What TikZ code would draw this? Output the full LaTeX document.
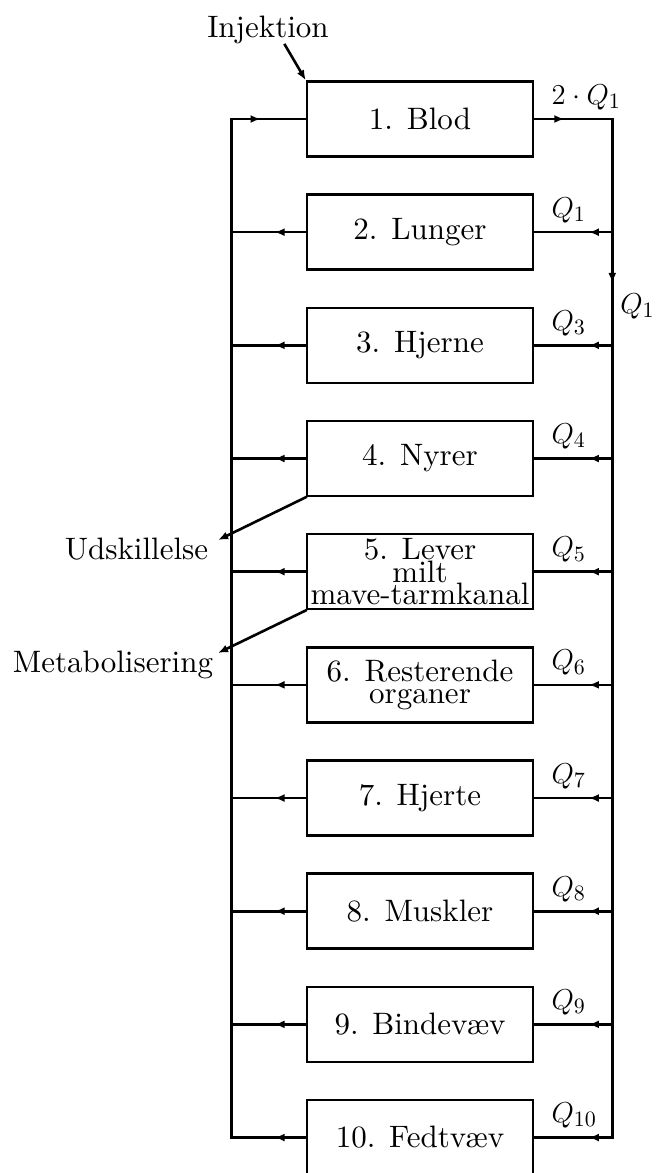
\documentclass[tikz,border=0pt]{standalone}
\usepackage{amsmath}
\usepackage{fontspec}
\setmainfont{lmroman10-regular.otf}
\usepackage{tikz}
\usetikzlibrary{arrows.meta,calc,positioning,decorations.markings}

\begin{document}
\begin{tikzpicture}[x=0.5pt,y=-0.5pt,line width=1.3pt,line cap=rect,
  every node/.append style={font=\fontsize{15.5}{17}\selectfont},
  organ/.style={draw,minimum width=113pt,minimum height=37.5pt,inner sep=0pt,
    align=center,font=\fontsize{15.5}{11.3}\selectfont},
  qlab/.style={anchor=south west,inner sep=1pt},
  tip/.style={-{Latex[length=5pt,width=4pt]}},
  midarrow/.style={postaction={decorate},decoration={markings,
    mark=at position #1 with {\arrow{Latex[length=5pt,width=4pt]}}}}]
  \useasboundingbox (0,0) rectangle (662,1173);
  % organ boxes, one per row
  \foreach \i/\txt in {1/{1. Blod},2/{2. Lunger},3/{3. Hjerne},4/{4. Nyrer},
      5/{5. Lever\\milt\\mave-tarmkanal},6/{6. Resterende\\organer},
      7/{7. Hjerte},8/{8. Muskler},9/{9. Bindevæv},10/{10. Fedtvæv}}{
    \node[organ] (b\i) at (420,{119+(\i-1)*113.17}) {\txt};
    \coordinate (L\i) at ($(b\i.west)+(-74,0)$);
    \coordinate (R\i) at ($(b\i.east)+(78,0)$);
  }
  % blood in and out
  \draw[midarrow=0.39] (L1) -- (b1.west);
  \draw[midarrow=0.385] (b1.east) -- (R1);
  \node[qlab] at ($(b1.east)+(14,-6)$) {$2\cdot Q_1$};
  % collecting lines
  \draw (L1) -- (L10);
  \draw[midarrow=0.161] (R1) -- (R10) node[pos=0.184,right] {$Q_1$};
  \foreach \i/\q in {2/1,3/3,4/4,5/5,6/6,7/7,8/8,9/9,10/10}{
    \draw[midarrow=0.3] (R\i) -- (b\i.east);
    \draw[midarrow=0.42] (b\i.west) -- (L\i);
    \node[qlab] at ($(b\i.east)+(14,-6)$) {$Q_{\q}$};
  }
  % injection and elimination
  \node (inj) at (268,30) {Injektion};
  \draw[tip] ($(inj.center)+(17,15)$) -- (b1.north west);
  \node (uds) at (136.5,549.5) {Udskillelse};
  \draw[tip] (b4.south west) -- ($(uds.east)+(2,-9.5)$);
  \node (met) at (113,665) {Metabolisering};
  \draw[tip] (b5.south west) -- ($(met.east)+(-3,-12)$);
\end{tikzpicture}
\end{document}
